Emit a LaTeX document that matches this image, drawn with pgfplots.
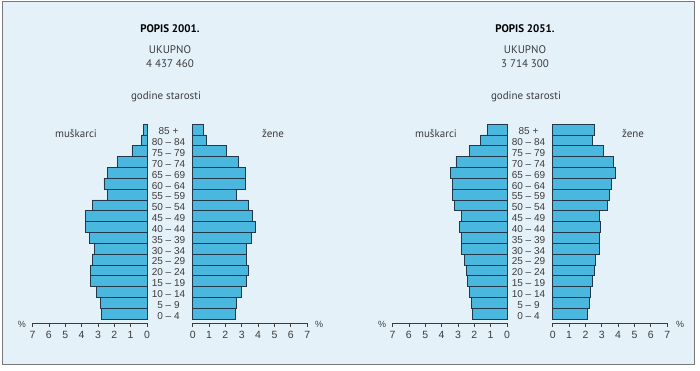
\documentclass[border=0pt]{standalone}
\usepackage{pgfplots}
\pgfplotsset{compat=1.18}
\usepackage{pgfplotstable}
\usepackage{fontspec}
\setmainfont{Liberation Sans}
\newfontfamily\hf{PT Sans}
\definecolor{bg}{RGB}{228,241,248}
\definecolor{barc}{RGB}{74,183,222}
\definecolor{edge}{RGB}{35,55,75}
\definecolor{frm}{RGB}{120,120,120}
\definecolor{txt}{RGB}{60,60,60}

\pgfplotstableread{
age m f
0 2.77 2.61
1 2.87 2.67
2 3.08 3.00
3 3.48 3.29
4 3.48 3.39
5 3.36 3.29
6 3.22 3.29
7 3.52 3.59
8 3.77 3.82
9 3.75 3.67
10 3.36 3.39
11 2.42 2.67
12 2.63 3.22
13 2.42 3.22
14 1.81 2.78
15 0.92 2.08
16 0.35 0.86
17 0.22 0.65
}\datA

\pgfplotstableread{
age m f
0 2.10 2.09
1 2.20 2.21
2 2.30 2.31
3 2.40 2.41
4 2.50 2.52
5 2.61 2.60
6 2.81 2.82
7 2.79 2.84
8 2.89 2.90
9 2.81 2.84
10 3.22 3.31
11 3.36 3.46
12 3.36 3.58
13 3.44 3.80
14 3.12 3.72
15 2.32 3.11
16 1.61 2.39
17 1.18 2.52
}\datB

\pgfplotsset{
  pyr/.style={
    xbar, bar width=10.83pt,
    scale only axis, width=114.5pt, height=199pt,
    anchor=south west,
    xmin=0, xmax=7, ymin=-0.87, ymax=17.5,
    axis x line*=bottom,
    xtick={0,...,7},
    tick align=outside,
    major tick length=3.5pt,
    x axis line style={draw=txt, line width=0.6pt},
    major x tick style={draw=txt, line width=0.7pt},
    xticklabel style={font=\fontsize{10.5}{10.5}\selectfont, text=txt, yshift=-1pt},
    /pgf/number format/assume math mode=true,
    clip=false,
  },
  barst/.style={fill=barc, draw=edge, line width=0.6pt},
  male/.style={pyr, x dir=reverse, axis y line=none},
  female/.style={pyr, axis y line*=left,
    y axis line style={draw=none},
    major y tick style={draw=none},
    ytick={0,...,17},
    yticklabels={0 – 4,5 – 9,10 – 14,15 – 19,20 – 24,25 – 29,30 – 34,35 – 39,40 – 44,45 – 49,50 – 54,55 – 59,60 – 64,65 – 69,70 – 74,75 – 79,80 – 84,85 +},
    yticklabel style={anchor=center, xshift=-20.7pt, yshift=-2pt, font=\fontsize{10}{10}\selectfont, text=txt},
  },
}

\begin{document}
\begin{tikzpicture}
\fill[white] (0pt,0pt) rectangle (700pt,-371pt);
\filldraw[fill=bg, draw=frm, line width=1pt] (2pt,-2pt) rectangle (694pt,-364pt);

% Left pyramid (2001)
\begin{axis}[male, at={(32.5pt,-323pt)}]
\addplot[barst] table[x=m, y=age] {\datA};
\end{axis}
\begin{axis}[female, at={(192.7pt,-323pt)}]
\addplot[barst] table[x=f, y=age] {\datA};
\end{axis}

% Right pyramid (2051)
\begin{axis}[male, at={(392.5pt,-323pt)}]
\addplot[barst] table[x=m, y=age] {\datB};
\end{axis}
\begin{axis}[female, at={(552.7pt,-323pt)}]
\addplot[barst] table[x=f, y=age] {\datB};
\end{axis}

% Texts
\begin{scope}[every node/.style={font=\hf\fontsize{11}{13}\selectfont, text=txt}]
\node[font=\hf\bfseries\fontsize{11}{13}\selectfont, text=black] at (170pt,-29pt) {POPIS 2001.};
\node at (170pt,-50pt) {UKUPNO};
\node at (170pt,-64pt) {4 437 460};
\node at (166pt,-97pt) {godine starosti};
\node at (76pt,-134pt) {muškarci};
\node at (273pt,-134pt) {žene};

\node[font=\hf\bfseries\fontsize{11}{13}\selectfont, text=black] at (525pt,-29pt) {POPIS 2051.};
\node at (525pt,-50pt) {UKUPNO};
\node at (525pt,-64pt) {3 714 300};
\node at (526pt,-97pt) {godine starosti};
\node at (436pt,-134pt) {muškarci};
\node at (633pt,-134pt) {žene};
\end{scope}

\begin{scope}[every node/.style={font=\fontsize{9}{9}\selectfont, text=txt}]
\node at (22pt,-324pt) {\%};
\node at (319pt,-324pt) {\%};
\node at (382pt,-324pt) {\%};
\node at (680pt,-324pt) {\%};
\end{scope}
\end{tikzpicture}
\end{document}
